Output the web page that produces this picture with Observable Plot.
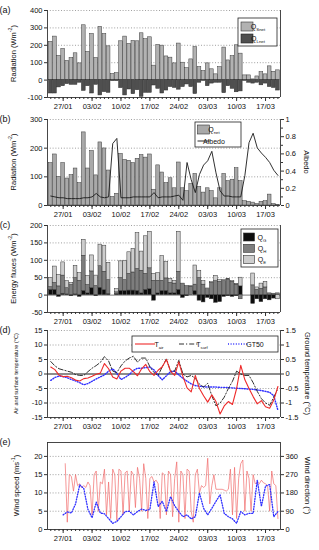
<!DOCTYPE html>
<html><head><meta charset="utf-8">
<script src="https://cdn.jsdelivr.net/npm/d3@7"></script>
<script src="https://cdn.jsdelivr.net/npm/@observablehq/plot@0.6"></script>
<style>
body{margin:0;background:#fff;font-family:"Liberation Sans",Arial,sans-serif;}
#chart{width:319px;}
#chart svg{display:block;}
</style></head><body><div id="chart"></div>
<script>
// ---------- data ----------
const firstDay = "2013-01-24";           // daily series start
const windStart = "2013-01-27";          // wind series start
const tickLabels = ["27/01","03/02","10/02","17/02","24/02","03/03","10/03","17/03"];

const qSnet = [220,250,139,179,110,127,154,96,315,162,265,127,306,265,194,35,40,223,250,208,225,223,269,235,246,83,202,198,136,129,96,210,100,69,119,190,75,52,96,62,33,75,187,113,138,200,152,27,27,4,21,46,33,79,48,56];
const qLnet = [-77,-77,-42,-35,-23,-27,-27,-15,-62,-35,-77,-27,-88,-69,-73,-6,-6,-46,-88,-54,-81,-58,-96,-73,-73,-31,-50,-77,-60,-40,-45,-55,-40,-25,-40,-80,-15,-5,-35,-20,-15,-15,-75,-35,-50,-70,-65,-5,-15,-20,-15,-30,-20,-40,-45,-60];
const qNet = [148,178,100,148,94,106,129,78,255,129,190,105,220,199,122,30,41,180,159,156,148,163,176,167,178,55,140,115,78,95,60,150,60,50,75,110,65,45,60,50,25,60,110,85,90,130,85,15,13,10,5,13,15,38,5,2];
const albedo = [0.11,0.10,0.09,0.09,0.08,0.08,0.08,0.08,0.09,0.09,0.10,0.14,0.10,0.09,0.10,0.72,0.78,0.09,0.09,0.09,0.10,0.10,0.10,0.10,0.10,0.15,0.09,0.10,0.10,0.10,0.11,0.12,0.06,0.50,0.30,0.15,0.36,0.47,0.52,0.63,0.38,0.17,0.11,0.11,0.10,0.10,0.10,0.35,0.73,0.84,0.67,0.61,0.56,0.50,0.41,0.35];
const qG = [15,15,-5,4,2,-3,2,-5,12,5,20,-3,21,14,3,null,3,12,12,13,13,12,5,15,17,-16,5,12,12,5,5,15,-8,-3,0,12,-16,-21,-8,-12,-22,-20,-5,-3,-5,-3,25,null,null,-25,-12,-20,-12,-15,-10,0];
const qH = [8,20,25,52,18,29,47,41,101,24,48,26,62,53,40,null,5,37,31,48,52,63,65,46,60,41,36,29,36,30,28,52,33,26,24,18,49,30,17,35,40,38,40,45,38,30,-12,null,null,28,15,18,22,5,4,5];
const qE = [26,47,33,38,20,6,35,22,46,26,46,30,62,75,50,null,9,48,55,62,68,103,55,108,105,20,22,71,47,12,8,115,0,0,2,55,21,10,2,2,15,5,3,2,2,2,25,null,null,34,7,15,16,0,0,-12];
const tAir = [2.4,1.5,-0.4,-0.9,-0.8,-1.3,-2.1,-2.4,-1.6,-1.4,-0.8,-0.1,0.3,3.6,1.8,-1.0,-1.7,1.0,2.0,2.0,0.8,-0.6,1.8,3.3,0.8,-0.5,1.3,2.5,5.0,0.9,-0.5,4.2,-0.8,-4.8,-6.2,-0.5,-5.0,-7.5,-9.7,-7.2,-9.5,-13.8,-11.0,-9.5,-10.5,-5.0,3.0,-2.0,-5.0,-7.8,-10.3,-9.2,-11.3,-11.8,-9.0,-4.3];
const tSurf = [4.3,2.8,1.8,1.4,1.0,0.6,-0.2,-0.5,-0.5,0.8,2.0,2.9,4.0,6.0,4.5,1.0,0.5,2.8,4.5,5.5,6.1,4.1,5.5,5.5,2.5,0.5,-0.5,2.5,5.2,1.0,1.0,4.7,0.0,-1.0,-0.5,-1.5,-3.5,-4.5,-3.2,-7.5,-11.0,-10.0,-8.0,-5.0,-2.5,1.0,0.0,-0.5,-0.5,-3.0,-6.0,-8.5,-10.0,-10.8,-8.0,-5.0];
const gt50 = [-0.22,-0.12,-0.07,-0.09,-0.13,-0.19,-0.24,-0.3,-0.37,-0.33,-0.25,-0.17,-0.1,-0.03,0.1,0.18,0.02,-0.19,-0.12,-0.02,0.12,0.2,0.2,0.22,0.24,0.14,-0.05,-0.2,-0.06,0.08,0.1,-0.03,-0.15,-0.25,-0.34,-0.4,-0.42,-0.44,-0.45,-0.45,-0.45,-0.46,-0.46,-0.47,-0.48,-0.49,-0.5,-0.51,-0.52,-0.53,-0.55,-0.57,-0.6,-0.63,-0.75,-1.25];
// daily wind speed (m/s) from 27/01
const windSpeed = [4.0,4.8,4.5,7.0,12.2,11.2,5.5,3.2,7.5,4.5,4.3,3.0,1.7,2.2,3.5,4.9,5.0,4.0,4.9,5.6,5.2,5.5,13.0,6.3,7.7,4.9,9.0,6.5,4.9,3.5,4.0,2.9,3.5,10.0,5.8,4.0,5.8,7.7,9.5,4.4,3.5,2.9,1.7,4.9,4.0,4.4,4.4,13.5,6.3,11.9,12.3,3.5,4.9];
// 12-hourly wind direction (deg) from 27/01 12:00
const windDir = [324,36,270,261,189,270,216,225,207,216,207,234,216,72,270,288,90,234,225,297,72,234,54,297,270,45,297,288,72,279,288,90,288,270,108,306,252,90,324,252,54,252,261,234,243,225,54,279,270,72,288,270,63,252,333,36,288,270,54,297,288,90,36,270,297,180,216,207,216,351,126,216,270,198,198,198,198,194,189,198,297,72,306,54,252,324,342,90,288,252,90,270,225,234,225,243,230,225,216,90,288,225,216,54];

// ---------- derived rows ----------
const DAY = 864e5;
const t0 = +new Date(firstDay + "T00:00Z");
const tw = +new Date(windStart + "T00:00Z");
const dayAt = i => new Date(t0 + i * DAY);
const rowsA = qSnet.map((v, i) => ({date: dayAt(i), snet: v, lnet: qLnet[i], net: qNet[i], alb: albedo[i],
  tair: tAir[i], tsurf: tSurf[i], gt: gt50[i]}));
const rowsC = [];
qG.forEach((g, i) => {
  if (g == null) return;
  rowsC.push({date: dayAt(i), key: "QG", v: g});
  rowsC.push({date: dayAt(i), key: "QH", v: qH[i]});
  rowsC.push({date: dayAt(i), key: "QE", v: qE[i]});
});
const rowsWS = windSpeed.map((v, i) => ({date: new Date(tw + i * DAY), v}));
const rowsWD = windDir.map((v, i) => ({date: new Date(tw + DAY / 2 + i * DAY / 2), v}));

const xDomain = [new Date("2013-01-23T05:00Z"), new Date("2013-03-20T15:00Z")];
const tickDates = tickLabels.map(s => { const [d, m] = s.split("/"); return new Date(Date.UTC(2013, +m - 1, +d)); });
const labelOf = new Map(tickDates.map((d, i) => [+d, tickLabels[i]]));
const minorDates = d3.utcDay.range(new Date(t0), new Date(t0 + 56 * DAY));

const x1 = d => new Date(+d.date - 0.45 * DAY);
const x2 = d => new Date(+d.date + 0.45 * DAY);
const W = 319, ML = 47, MR = 39, FS = 7.5;
const AX = "#333";
const DOT = "1,1.6";
const style = {fontFamily: "'Liberation Sans', Arial, sans-serif", fontSize: FS + "px", background: "transparent", overflow: "visible", color: "#111"};

function xAxes() {
  return [
    Plot.axisX({ticks: minorDates, tickSize: 2, tickFormat: () => "", stroke: AX, label: null}),
    Plot.axisX({ticks: tickDates, tickSize: 4, tickPadding: 2, tickFormat: d => labelOf.get(+d) || "", stroke: AX, label: null})
  ];
}
function sides(yMin) {
  return [Plot.ruleX(xDomain, {stroke: AX, strokeWidth: 0.9}), Plot.ruleY([yMin], {stroke: AX, strokeWidth: 0.9})];
}
function grid(ticks) {
  return Plot.gridY({ticks, stroke: "#888", strokeOpacity: 1, strokeDasharray: "1,1.8", strokeWidth: 0.8});
}
function yAxis(ticks, opts = {}) {
  return Plot.axisY({ticks, tickSize: 3, tickPadding: 2, label: null, stroke: AX, tickFormat: d => String(d), ...opts});
}

function panel(mt, h, mb, yDomain, marks, extra = {}) {
  return Plot.plot({width: W, height: mt + h + mb, marginTop: mt, marginBottom: mb, marginLeft: ML, marginRight: MR,
    style, x: {type: "utc", domain: xDomain}, y: {domain: yDomain}, marks, ...extra});
}

// ---------- helpers for text ----------
function vTitle(svg, x, y, parts, rot, size) {
  const t = d3.select(svg).append("text").attr("transform", `translate(${x},${y}) rotate(${rot})`)
    .attr("text-anchor", "middle").attr("dominant-baseline", "central").attr("font-size", size).attr("fill", "#111");
  let shifted = 0;
  parts.forEach(p => {
    if (typeof p === "string") { const s = t.append("tspan").text(p); if (shifted) { s.attr("dy", -shifted); shifted = 0; } }
    else { const dy = -size * 0.38; t.append("tspan").attr("font-size", size * 0.7).attr("dy", dy).text(p.sup); shifted = dy; }
  });
}
function panelLabel(svg, y, txt) {
  d3.select(svg).append("text").attr("x", 5).attr("y", y).attr("dominant-baseline", "central")
    .attr("font-size", 9).attr("fill", "#111").text(txt);
}
function legendBox(svg, x, y, w, h) {
  const g = d3.select(svg).append("g").attr("transform", `translate(${x},${y})`);
  g.append("rect").attr("width", w).attr("height", h).attr("fill", "#fff").attr("stroke", "#222").attr("stroke-width", 0.8);
  return g;
}
function lab(g, x, y, main, sub, size = 7) {
  const t = g.append("text").attr("x", x).attr("y", y).attr("font-size", size).attr("fill", "#111");
  t.append("tspan").text(main);
  if (sub) t.append("tspan").attr("font-size", size * 0.62).attr("dy", size * 0.3).text(sub);
}

const chart = document.getElementById("chart");

// ---------- (a) ----------
const pa = panel(10, 87, 12, [-100, 400], [
  grid([100, 200, 300, 400]),
  Plot.rect(rowsA, {x1, x2, y1: 0, y2: "snet", fill: "#b2b2b2", stroke: "#3a3a3a", strokeWidth: 0.5}),
  Plot.rect(rowsA, {x1, x2, y1: 0, y2: "lnet", fill: "#4f4f4f", stroke: "#2a2a2a", strokeWidth: 0.5}),
  ...sides(-100),
  yAxis([-100, 0, 100, 200, 300, 400]),
  ...xAxes()
]);
chart.append(pa);
panelLabel(pa, 10, "(a)");
vTitle(pa, 13, 53.5, ["Radiation (Wm", {sup: "-2"}, ")"], -90, FS);
{
  const g = legendBox(pa, 238, 18, 39, 28);
  g.append("rect").attr("x", 3).attr("y", 4).attr("width", 12).attr("height", 9).attr("fill", "#b2b2b2").attr("stroke", "#333").attr("stroke-width", 0.6);
  g.append("rect").attr("x", 3).attr("y", 16).attr("width", 12).attr("height", 9).attr("fill", "#4f4f4f").attr("stroke", "#222").attr("stroke-width", 0.6);
  lab(g, 20, 11, "Q", "Snet");
  lab(g, 20, 23, "Q", "Lnet");
}

// ---------- (b) ----------
const pb = panel(10, 86, 10, [0, 300], [
  grid([100, 200, 300]),
  Plot.rect(rowsA, {x1, x2, y1: 0, y2: "net", fill: "#a9a9a9", stroke: "#3a3a3a", strokeWidth: 0.5}),
  Plot.line(rowsA, {x: "date", y: d => d.alb * 300, stroke: "#1a1a1a", strokeWidth: 0.9}),
  ...sides(0),
  yAxis([0, 100, 200, 300]),
  Plot.axisY({anchor: "right", ticks: [0, 60, 120, 180, 240, 300], tickSize: 3, tickPadding: 2, label: null, stroke: AX,
    tickFormat: d => String(+(d / 300).toFixed(1))}),
  Plot.axisY({anchor: "right", ticks: [30, 90, 150, 210, 270], tickSize: 2, label: null, stroke: AX, tickFormat: () => ""}),
  ...xAxes()
]);
chart.append(pb);
panelLabel(pb, 10, "(b)");
vTitle(pb, 13, 53, ["Radiation (Wm", {sup: "-2"}, ")"], -90, FS);
vTitle(pb, 307, 53, ["Albedo"], 90, FS);
{
  const g = legendBox(pb, 195, 13, 46, 25);
  g.append("rect").attr("x", 2.5).attr("y", 3).attr("width", 12).attr("height", 9).attr("fill", "#a9a9a9").attr("stroke", "#333").attr("stroke-width", 0.6);
  g.append("line").attr("x1", 2.5).attr("x2", 14.5).attr("y1", 19).attr("y2", 19).attr("stroke", "#111").attr("stroke-width", 0.9);
  lab(g, 19, 10, "Q", "net");
  lab(g, 19, 22, "Albedo");
}

// ---------- (c) ----------
const pc = panel(10, 87, 9, [-50, 200], [
  grid([50, 100, 150, 200]),
  Plot.ruleY([0], {stroke: "#555", strokeWidth: 0.8}),
  Plot.rect(rowsC, Plot.stackY({x: "date", y: "v", z: "key", fill: "key", x1, x2, stroke: "#333", strokeWidth: 0.5})),
  ...sides(-50),
  yAxis([-50, 0, 50, 100, 150, 200]),
  ...xAxes()
], {color: {domain: ["QG", "QH", "QE"], range: ["#0d0d0d", "#7d7d7d", "#cdcdcd"]}});
chart.append(pc);
panelLabel(pc, 10, "(c)");
vTitle(pc, 13, 53.5, ["Energy fluxes (Wm", {sup: "-2"}, ")"], -90, FS);
{
  const g = legendBox(pc, 241, 14, 37, 38);
  [["#0d0d0d", "G"], ["#7d7d7d", "H"], ["#cdcdcd", "E"]].forEach(([c, s], i) => {
    g.append("rect").attr("x", 2.5).attr("y", 4 + i * 11.3).attr("width", 11).attr("height", 8).attr("fill", c).attr("stroke", "#333").attr("stroke-width", 0.6);
    lab(g, 21, 10.5 + i * 11.3, "Q", s);
  });
}

// ---------- (d) ----------
const pd = panel(9, 87, 12, [-15, 15], [
  grid([-10, -5, 5, 10, 15]),
  Plot.ruleY([0], {stroke: "#8c8c8c", strokeWidth: 1.8}),
  Plot.line(rowsA, {x: "date", y: d => d.gt * 10, stroke: "#3030ff", strokeWidth: 1.4, strokeDasharray: DOT}),
  Plot.line(rowsA, {x: "date", y: "tsurf", stroke: "#1a1a1a", strokeWidth: 0.9, strokeDasharray: "5,2,1.2,2"}),
  Plot.line(rowsA, {x: "date", y: "tair", stroke: "#ee2a2a", strokeWidth: 1.1}),
  ...sides(-15),
  yAxis([-15, -10, -5, 0, 5, 10, 15]),
  Plot.axisY({anchor: "right", ticks: [-15, -10, -5, 0, 5, 10, 15], tickSize: 3, tickPadding: 2, label: null, stroke: AX,
    tickFormat: d => String(d / 10)}),
  ...xAxes()
]);
chart.append(pd);
panelLabel(pd, 9, "(d)");
vTitle(pd, 16, 52.5, ["Air and surface temperature (°C)"], -90, 5.6);
vTitle(pd, 308, 52.5, ["Ground temperature (°C)"], 90, FS);
{
  const g = legendBox(pd, 132, 15, 146, 16);
  g.append("line").attr("x1", 3).attr("x2", 23).attr("y1", 8).attr("y2", 8).attr("stroke", "#ee2a2a").attr("stroke-width", 1.1);
  lab(g, 27, 10.5, "T", "air");
  g.append("line").attr("x1", 47).attr("x2", 67).attr("y1", 8).attr("y2", 8).attr("stroke", "#1a1a1a").attr("stroke-width", 0.9).attr("stroke-dasharray", "5,2,1.2,2");
  lab(g, 70, 10.5, "T", "surf");
  g.append("line").attr("x1", 96).attr("x2", 116).attr("y1", 8).attr("y2", 8).attr("stroke", "#3030ff").attr("stroke-width", 1.4).attr("stroke-dasharray", DOT);
  lab(g, 123, 10.5, "GT50");
}

// ---------- (e) ----------
const pe = panel(13, 87, 21, [0, 23.8], [
  grid([5, 10, 15, 20]),
  Plot.line(rowsWD, {x: "date", y: d => d.v / 18, stroke: "#f06a6a", strokeWidth: 0.7}),
  Plot.line(rowsWS, {x: "date", y: "v", stroke: "#3030ff", strokeWidth: 1.3, strokeDasharray: DOT}),
  Plot.frame({stroke: AX, strokeWidth: 0.9}),
  yAxis([0, 5, 10, 15, 20]),
  Plot.axisY({anchor: "right", ticks: [0, 5, 10, 15, 20], tickSize: 3, tickPadding: 2, label: null, stroke: AX,
    tickFormat: d => String(d * 18)}),
  ...xAxes()
]);
chart.append(pe);
panelLabel(pe, 13, "(e)");
vTitle(pe, 16, 56.5, ["Wind speed (ms", {sup: "-1"}, ")"], -90, FS);
vTitle(pe, 308, 56.5, ["Wind direction (°)"], 90, FS);
</script>
</body></html>
